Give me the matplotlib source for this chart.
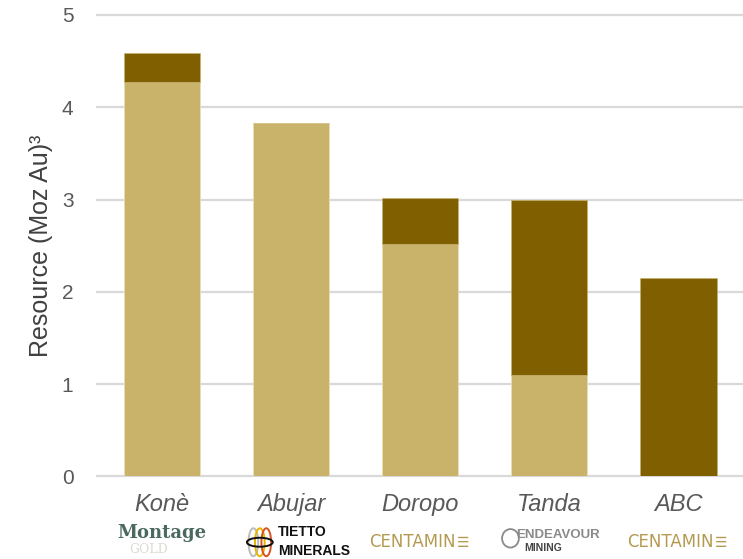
import matplotlib
matplotlib.use("Agg")
import matplotlib.pyplot as plt
from matplotlib.patches import Ellipse
import matplotlib.transforms as mtransforms

plt.rcParams['font.family'] = ['Liberation Sans', 'DejaVu Sans']

projects = ["Konè", "Abujar", "Doropo", "Tanda", "ABC"]
lower = [4.27, 3.83, 2.52, 1.10, 0.0]
upper = [0.32, 0.0, 0.50, 1.90, 2.15]
yticks = [0, 1, 2, 3, 4, 5]

light = "#C9B36A"
dark = "#7F5F00"

fig = plt.figure(figsize=(7.43, 5.59), dpi=100)
ax = fig.add_axes([0.1306, 0.1476, 0.8694, 0.8256])

x = list(range(len(projects)))
ax.bar(x, lower, width=0.59, color=light, edgecolor="#E8DDB5", linewidth=0.6, zorder=3)
ax.bar(x, upper, bottom=lower, width=0.59, color=dark, edgecolor="#C9B36A", linewidth=0.4, zorder=3)

ax.set_xlim(-0.5, len(projects) - 0.5)
ax.set_ylim(0, 5)
ax.set_yticks(yticks)
ax.set_yticklabels([str(t) for t in yticks], fontsize=15, color="#595959")
ax.yaxis.grid(True, color="#D9D9D9", linewidth=1.6, zorder=0)
ax.set_axisbelow(True)
for s in ax.spines.values():
    s.set_visible(False)
ax.tick_params(axis='y', length=0, pad=17)
ax.tick_params(axis='x', length=0, pad=12)
ax.set_xticks(x)
ax.set_xticklabels(projects, fontsize=17, style='italic', color="#595959")
ax.set_ylabel("Resource (Moz Au)³", fontsize=18, color="#404040", labelpad=6)
for line in ax.get_ygridlines():
    line.set_clip_on(False)

# logo approximations (text)
trans = mtransforms.blended_transform_factory(ax.transData, fig.transFigure)
# Montage Gold
ax.text(0.0, 0.030, "Montage", transform=trans, ha='center', va='bottom', fontsize=13,
        family='DejaVu Serif', weight='bold', color="#4A6A60", clip_on=False)
ax.text(-0.1, 0.006, "GOLD", transform=trans, ha='center', va='bottom', fontsize=9,
        family='DejaVu Serif', color="#DDDAD0", clip_on=False)
# Tietto Minerals
ax.text(-0.10 + 1, 0.036, "TIETTO", transform=trans, ha='left', va='bottom', fontsize=10,
        weight='bold', color="#111111", clip_on=False)
ax.text(-0.10 + 1, 0.001, "MINERALS", transform=trans, ha='left', va='bottom', fontsize=10,
        weight='bold', color="#111111", clip_on=False)
for dx, c in [(-0.29, "#BBBBBB"), (-0.24, "#E8B400"), (-0.19, "#D9531E")]:
    e = Ellipse((1 + dx, 0.030), 0.075, 0.05, transform=trans, fill=False,
                edgecolor=c, linewidth=1.4, clip_on=False)
    ax.add_patch(e)
ax.add_patch(Ellipse((1 - 0.24, 0.030), 0.2, 0.016, transform=trans, fill=False,
                     edgecolor="#111111", linewidth=1.4, clip_on=False))
# Centamin
for xi in (2, 4):
    ax.text(xi - 0.06, 0.015, "CENTAMIN", transform=trans, ha='center', va='bottom',
            fontsize=12, family='Liberation Sans Narrow', color="#B49A50", clip_on=False)
    ax.text(xi + 0.33, 0.016, "☰", transform=trans, ha='center', va='bottom',
            fontsize=10, family='DejaVu Sans', color="#B49A50", clip_on=False)
# Endeavour Mining
ax.text(3.07, 0.033, "ENDEAVOUR", transform=trans, ha='center', va='bottom', fontsize=9.5,
        weight='bold', color="#8A8A8A", clip_on=False)
ax.text(2.95, 0.010, "MINING", transform=trans, ha='center', va='bottom', fontsize=7.5,
        weight='bold', color="#444444", clip_on=False)
ax.add_patch(Ellipse((3 - 0.30, 0.037), 0.13, 0.033, transform=trans, fill=False,
                     edgecolor="#8A8A8A", linewidth=1.3, clip_on=False))

fig.savefig("out.png", dpi=100)
